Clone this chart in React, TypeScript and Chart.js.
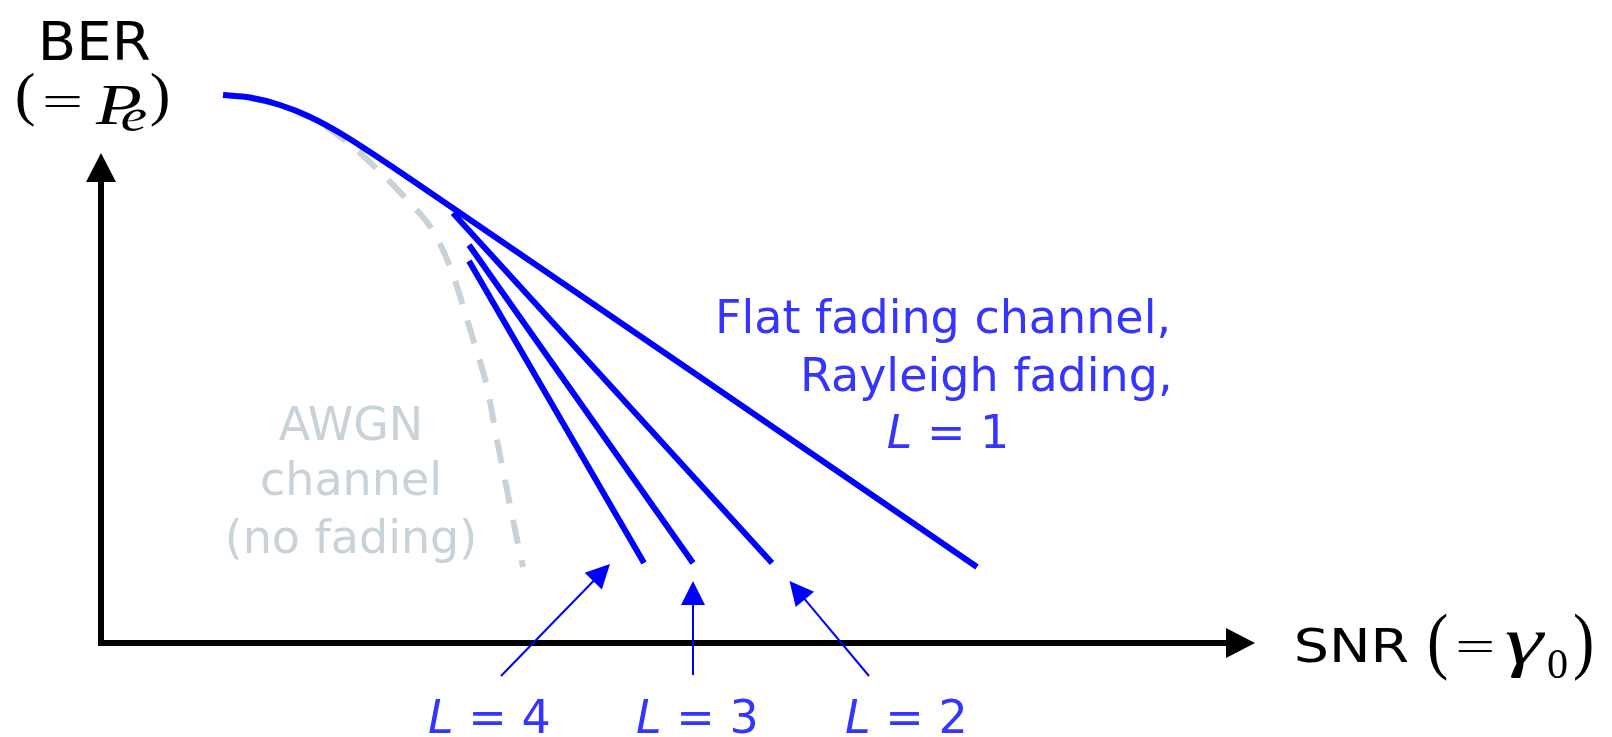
import React, { useEffect, useRef } from "react";
import { Chart, registerables } from "chart.js";

Chart.register(...registerables);

// Schematic units: SNR (horizontal) and BER (vertical), origin at the axes corner.
const L1_SNR = [12.2, 14.9, 17.9, 20.9, 23.9, 26.9, 29.9, 33.2, 59.9, 87.6];
const L1_BER = [54.8, 54.55, 53.8, 52.6, 51.0, 49.1, 47.1, 44.85, 26.6, 7.6];
const L2_SNR = [35.2, 67.1];
const L2_BER = [43.0, 8.0];
const L3_SNR = [36.8, 59.2];
const L3_BER = [39.8, 8.0];
const L4_SNR = [36.8, 54.3];
const L4_BER = [38.2, 8.0];
const AWGN_SNR = [14.9, 17.9, 20.6, 24.6, 27.9, 30.9, 33.2, 35.1, 37.2, 38.6, 39.6, 40.4, 41.2, 42.2];
const AWGN_BER = [54.5, 53.8, 52.8, 50.1, 47.1, 44.0, 41.2, 37.1, 30.4, 25.6, 20.3, 16.3, 12.3, 7.6];

// Pointer arrows for the diversity-order labels
const POINTER_LABELS = ["4", "3", "2"];
const POINTER_TAIL_SNR = [40.0, 59.2, 76.8];
const POINTER_TAIL_BER = [-3.3, -3.2, -3.3];
const POINTER_TIP_SNR = [50.9, 59.2, 68.85];
const POINTER_TIP_BER = [7.9, 6.2, 6.2];
const POINTER_LABEL_SNR = [32.7, 53.5, 74.4];
const POINTER_LABEL_BER = [-8.95, -8.95, -8.95];

const X_MIN = -10.1;
const X_MAX = 151.1;
const Y_MIN = -9.4;
const Y_MAX = 64.3;
const Y_AXIS_TIP = 49.0;
const X_AXIS_TIP = 115.4;

const BLUE = "#0000ff";
const BLUE_TEXT = "#3535ff";
const GRAY = "#c8d2d9";
const SANS = "'DejaVu Sans', Verdana, sans-serif";
const SERIF = "'Liberation Serif', 'Times New Roman', serif";

type Box = [number, number, number, number];

const MATH_LABELS: { text: string; font: string; box: Box }[] = [
  { text: "BER", font: `53px ${SANS}`, box: [-5.8, 62.24, 4.8, 58.34] },
  { text: "(", font: `60px ${SERIF}`, box: [-8.43, 56.97, -6.77, 51.63] },
  { text: "=", font: `50px ${SERIF}`, box: [-5.6, 54.7, -2.1, 53.6] },
  { text: "P", font: `italic 58px ${SERIF}`, box: [-0.5, 55.7, 3.9, 51.9] },
  { text: "e", font: `italic 40px ${SERIF}`, box: [2.1, 53.5, 4.5, 51.2] },
  { text: ")", font: `60px ${SERIF}`, box: [5.07, 56.97, 6.73, 51.63] },
  { text: "SNR", font: `53px ${SANS}`, box: [119.6, 1.6, 130.7, -2.0] },
  { text: "(", font: `64px ${SERIF}`, box: [132.9, 2.8, 134.6, -3.7] },
  { text: "=", font: `50px ${SERIF}`, box: [135.7, 0.2, 139.1, -0.9] },
  { text: "γ", font: `italic 80px ${SERIF}`, box: [140.5, 1.1, 144.5, -3.5] },
  { text: "0", font: `40px ${SERIF}`, box: [144.7, -0.7, 146.6, -3.5] },
  { text: ")", font: `64px ${SERIF}`, box: [147.4, 2.8, 149.1, -3.7] },
];

const inkCache = new Map<string, { left: number; right: number; top: number; bottom: number }>();
function inkBox(text: string, font: string) {
  const key = font + "|" + text;
  const hit = inkCache.get(key);
  if (hit) return hit;
  const W = 600, H = 300, ox = 100, oy = 200;
  const c = document.createElement("canvas");
  c.width = W;
  c.height = H;
  const g = c.getContext("2d", { willReadFrequently: true } as any) as CanvasRenderingContext2D;
  g.font = font;
  g.fillStyle = "#000";
  g.textAlign = "left";
  g.textBaseline = "alphabetic";
  g.fillText(text, ox, oy);
  const d = g.getImageData(0, 0, W, H).data;
  let minX = W, maxX = -1, minY = H, maxY = -1;
  for (let y = 0; y < H; y++) {
    for (let x = 0; x < W; x++) {
      if (d[(y * W + x) * 4 + 3] > 60) {
        if (x < minX) minX = x;
        if (x > maxX) maxX = x;
        if (y < minY) minY = y;
        if (y > maxY) maxY = y;
      }
    }
  }
  const r = maxX < 0
    ? { left: 0, right: 10, top: -10, bottom: 0 }
    : { left: minX - ox, right: maxX + 1 - ox, top: minY - oy, bottom: maxY + 1 - oy };
  inkCache.set(key, r);
  return r;
}

function drawArrow(
  ctx: CanvasRenderingContext2D,
  x0: number, y0: number, x1: number, y1: number,
  color: string, lw: number, len: number, half: number
) {
  const dx = x1 - x0, dy = y1 - y0;
  const d = Math.hypot(dx, dy) || 1;
  const ux = dx / d, uy = dy / d;
  const bx = x1 - ux * len, by = y1 - uy * len;
  ctx.save();
  ctx.strokeStyle = color;
  ctx.fillStyle = color;
  ctx.lineWidth = lw;
  ctx.lineCap = "butt";
  ctx.beginPath();
  ctx.moveTo(x0, y0);
  ctx.lineTo(bx + ux * 2, by + uy * 2);
  ctx.stroke();
  ctx.beginPath();
  ctx.moveTo(x1, y1);
  ctx.lineTo(bx - uy * half, by + ux * half);
  ctx.lineTo(bx + uy * half, by - ux * half);
  ctx.closePath();
  ctx.fill();
  ctx.restore();
}

function drawFit(ctx: CanvasRenderingContext2D, text: string, font: string, color: string,
  x0: number, y0: number, x1: number, y1: number) {
  const b = inkBox(text, font);
  const sx = (x1 - x0) / Math.max(1, b.right - b.left);
  const sy = (y1 - y0) / Math.max(1, b.bottom - b.top);
  ctx.save();
  ctx.font = font;
  ctx.textAlign = "left";
  ctx.textBaseline = "alphabetic";
  ctx.translate(x0, y0);
  ctx.scale(sx, sy);
  ctx.fillStyle = color;
  ctx.fillText(text, -b.left, -b.top);
  ctx.restore();
}

function drawLText(ctx: CanvasRenderingContext2D, rest: string, x: number, y: number, size: number, color: string) {
  ctx.save();
  ctx.fillStyle = color;
  ctx.textAlign = "left";
  ctx.textBaseline = "alphabetic";
  ctx.font = `italic ${size}px ${SANS}`;
  ctx.fillText("L", x, y);
  const w = ctx.measureText("L").width;
  ctx.font = `${size}px ${SANS}`;
  ctx.fillText(" = " + rest, x + w, y);
  ctx.restore();
}

const schematicPlugin = {
  id: "schematic",
  beforeDatasetsDraw(chart: any) {
    const { ctx, scales } = chart;
    const X = (v: number) => scales.x.getPixelForValue(v);
    const Y = (v: number) => scales.y.getPixelForValue(v);
    drawArrow(ctx, X(0), Y(-0.3), X(0), Y(Y_AXIS_TIP), "#000", 6, 29, 15);
    drawArrow(ctx, X(-0.3), Y(0), X(X_AXIS_TIP), Y(0), "#000", 6, 29, 15);
  },
  afterDatasetsDraw(chart: any) {
    const { ctx, scales } = chart;
    const X = (v: number) => scales.x.getPixelForValue(v);
    const Y = (v: number) => scales.y.getPixelForValue(v);

    POINTER_LABELS.forEach((lab, i) => {
      drawArrow(ctx, X(POINTER_TAIL_SNR[i]), Y(POINTER_TAIL_BER[i]),
        X(POINTER_TIP_SNR[i]), Y(POINTER_TIP_BER[i]), BLUE, 2, 24, 12);
      drawLText(ctx, lab, X(POINTER_LABEL_SNR[i]), Y(POINTER_LABEL_BER[i]), 46, BLUE_TEXT);
    });

    ctx.save();
    ctx.fillStyle = BLUE_TEXT;
    ctx.font = `46px ${SANS}`;
    ctx.textAlign = "left";
    ctx.textBaseline = "alphabetic";
    ctx.fillText("Flat fading channel,", X(61.4), Y(31.03));
    ctx.fillText("Rayleigh fading,", X(69.9), Y(25.23));
    ctx.restore();
    drawLText(ctx, "1", X(78.57), Y(19.5), 46, BLUE_TEXT);

    ctx.save();
    ctx.fillStyle = GRAY;
    ctx.font = `46px ${SANS}`;
    ctx.textAlign = "center";
    ctx.textBaseline = "alphabetic";
    ctx.fillText("AWGN", X(25.0), Y(20.3));
    ctx.fillText("channel", X(25.0), Y(14.8));
    ctx.fillText("(no fading)", X(25.0), Y(9.0));
    ctx.restore();

    MATH_LABELS.forEach((m) => {
      drawFit(ctx, m.text, m.font, "#000", X(m.box[0]), Y(m.box[1]), X(m.box[2]), Y(m.box[3]));
    });
  },
};

function pts(xs: number[], ys: number[]) {
  return xs.map((x, i) => ({ x, y: ys[i] }));
}

export default function App() {
  const ref = useRef<HTMLCanvasElement>(null);
  useEffect(() => {
    const canvas = ref.current;
    if (!canvas) return;
    const solid = (label: string, xs: number[], ys: number[], tension: number) => ({
      label,
      data: pts(xs, ys),
      borderColor: BLUE,
      backgroundColor: BLUE,
      borderWidth: 6,
      borderCapStyle: "butt",
      borderJoinStyle: "round",
      pointRadius: 0,
      fill: false,
      tension,
      order: 0,
    });
    const chart = new Chart(canvas, {
      type: "line",
      data: {
        datasets: [
          solid("L = 1", L1_SNR, L1_BER, 0.35),
          solid("L = 2", L2_SNR, L2_BER, 0),
          solid("L = 3", L3_SNR, L3_BER, 0),
          solid("L = 4", L4_SNR, L4_BER, 0),
          {
            label: "AWGN channel (no fading)",
            data: pts(AWGN_SNR, AWGN_BER),
            borderColor: GRAY,
            backgroundColor: GRAY,
            borderWidth: 6,
            borderDash: [24, 17],
            borderCapStyle: "butt",
            pointRadius: 0,
            fill: false,
            cubicInterpolationMode: "monotone",
            order: 1,
          },
        ] as any,
      },
      options: {
        animation: false,
        responsive: false,
        devicePixelRatio: 1,
        events: [],
        layout: { padding: 0 },
        plugins: {
          legend: { display: false },
          tooltip: { enabled: false },
          title: { display: false },
        },
        scales: {
          x: { type: "linear", display: false, min: X_MIN, max: X_MAX },
          y: { type: "linear", display: false, min: Y_MIN, max: Y_MAX },
        },
      } as any,
      plugins: [schematicPlugin],
    });
    return () => chart.destroy();
  }, []);
  return (
    <div style={{ position: "fixed", left: 0, top: 0, width: 1612, height: 737, background: "#fff" }}>
      <canvas ref={ref} width={1612} height={737} style={{ display: "block" }} />
    </div>
  );
}
